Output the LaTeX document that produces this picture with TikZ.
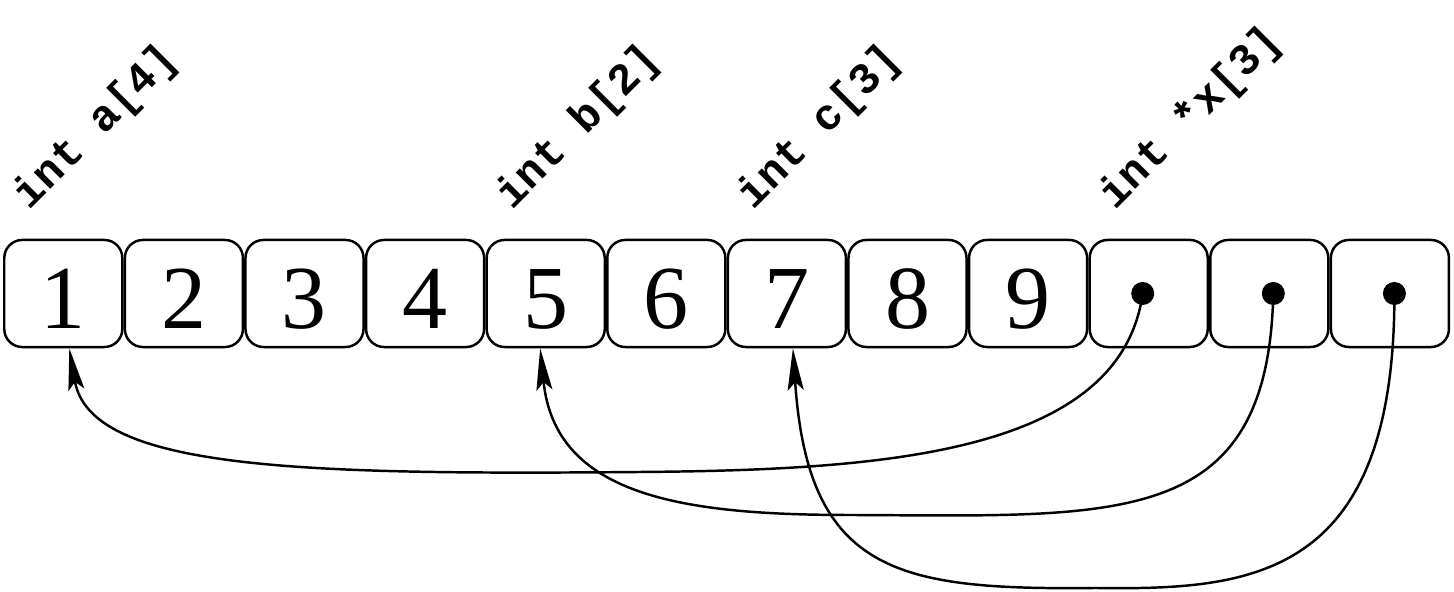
\documentclass[tikz,border=0pt]{standalone}
\usepackage{fontspec}
\setmainfont{Liberation Serif}
\setmonofont{Liberation Mono}
\usetikzlibrary{arrows.meta}
\begin{document}
\begin{tikzpicture}[x=0.01cm, y=-0.01cm,
  cell/.style={draw, line width=0.7pt, rounded corners=0.18cm,
    minimum width=1.18cm, minimum height=1.07cm, inner sep=0pt,
    font=\fontsize{25.6pt}{30pt}\selectfont, text height=0.73cm, text depth=0.04cm},
  dot/.style={circle, fill=black, inner sep=0pt, minimum size=0.23cm},
  lbl/.style={rotate=45, anchor=base west, inner sep=0pt,
    font=\ttfamily\bfseries\fontsize{12.5pt}{15pt}\selectfont},
  conn/.style={line width=0.7pt, -{Stealth[length=0.42cm, width=0.16cm, inset=0.08cm]}}]
\useasboundingbox (0,0) rectangle (1454,592);
\foreach \i in {1,...,9}
  \node[cell] (b\i) at ({63.3+(\i-1)*120.6},293.5) {\i};
\foreach \i in {10,11,12}
  \node[cell] (b\i) at ({63.3+(\i-1)*120.6},293.5) {};
\node[dot] (d10) at ([xshift=-0.06cm]b10.center) {};
\node[dot] (d11) at ([xshift=0.04cm]b11.center) {};
\node[dot] (d12) at ([xshift=0.045cm]b12.center) {};
\node[lbl] (la) at ([xshift=-0.34cm, yshift=0.28cm]b1.north) {int a[4]};
\node[lbl] (lb) at ([xshift=-0.34cm, yshift=0.28cm]b5.north) {int b[2]};
\node[lbl] (lc) at ([xshift=-0.34cm, yshift=0.28cm]b7.north) {int c[3]};
\node[lbl] (lx) at ([xshift=-0.34cm, yshift=0.28cm]b10.north) {int *x[3]};
\draw[conn] (d10.center) .. controls (1120,455) and (880,470) .. (640,472)
  .. controls (300,475) and (90,470) .. ([xshift=0.06cm]b1.south);
\draw[conn] (d11.center) .. controls (1268,530) and (1120,516) .. (850,515)
  .. controls (680,515) and (555,495) .. ([xshift=-0.055cm]b5.south);
\draw[conn] (d12.center) .. controls (1395,580) and (1250,590) .. (1096,588)
  .. controls (900,590) and (808,575) .. ([xshift=0.06cm]b7.south);
\end{tikzpicture}
\end{document}
